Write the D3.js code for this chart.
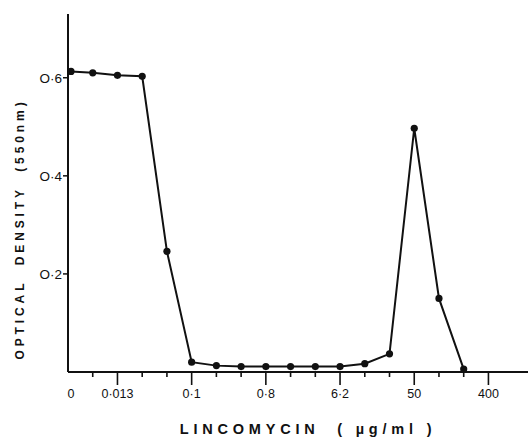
<!DOCTYPE html>
<html>
<head>
<meta charset="utf-8">
<script src="https://cdn.jsdelivr.net/npm/d3@7"></script>
<style>
	body { margin: 0; background: #fff; }
	text { font-family: 'Liberation Sans', Arial, sans-serif; fill: #111; }
</style>
</head>
<body>
<script>

// doubling dilutions, plotted by step index
const steps = [0, 1, 2, 3, 4, 5, 6, 7, 8, 9, 10, 11, 12, 13, 14, 15, 16];
const density = [0.613, 0.610, 0.605, 0.603, 0.246, 0.020, 0.013, 0.011, 0.011, 0.011, 0.011, 0.011, 0.017, 0.037, 0.497, 0.150, 0.006];

const xTickSteps = [1, 2, 3, 4, 5, 6, 7, 8, 9, 10, 11, 12, 13, 14, 15, 16, 17];
const xLabelSteps = [0, 2, 5, 8, 11, 14, 17];
const xLabels = ['0', '0·013', '0·1', '0·8', '6·2', '50', '400'];
const yTicks = [0.2, 0.4, 0.6];
const yLabels = ['O·2', 'O·4', 'O·6'];

const width = 530;
const height = 440;

const x = d3.scaleLinear()
	.domain([0, 18.6])
	.range([68, 528]);
const y = d3.scaleLinear()
	.domain([0, 0.73])
	.range([372, 14]);

const svg = d3.select('body')
	.append('svg')
	.attr('width', width)
	.attr('height', height);

// axes lines
svg.append('line')
	.attr('x1', x(0)).attr('x2', x(0))
	.attr('y1', y(0.73)).attr('y2', y(0))
	.attr('stroke', '#111').attr('stroke-width', 2);
svg.append('line')
	.attr('x1', x(0)).attr('x2', x(18.6))
	.attr('y1', y(0)).attr('y2', y(0))
	.attr('stroke', '#111').attr('stroke-width', 2);

// x ticks
svg.selectAll('.xtick')
	.data(xTickSteps)
	.enter()
	.append('line')
	.attr('class', 'xtick')
	.attr('x1', d => x(d)).attr('x2', d => x(d))
	.attr('y1', y(0))
	.attr('y2', d => y(0) + (xLabelSteps.includes(d) ? 13 : 5))
	.attr('stroke', '#111').attr('stroke-width', 1.6);

svg.selectAll('.xlab')
	.data(xLabels)
	.enter()
	.append('text')
	.attr('class', 'xlab')
	.attr('x', (d, i) => x(xLabelSteps[i]) + (i === 0 ? 3 : 0))
	.attr('y', 398)
	.attr('text-anchor', 'middle')
	.attr('font-size', 12.5)
	.text(d => d);

// y ticks
svg.selectAll('.ytick')
	.data(yTicks)
	.enter()
	.append('line')
	.attr('class', 'ytick')
	.attr('x1', x(0) - 5).attr('x2', x(0))
	.attr('y1', d => y(d)).attr('y2', d => y(d))
	.attr('stroke', '#111').attr('stroke-width', 1.5);

svg.selectAll('.ylab')
	.data(yLabels)
	.enter()
	.append('text')
	.attr('class', 'ylab')
	.attr('x', x(0) - 6)
	.attr('y', (d, i) => y(yTicks[i]) + 5)
	.attr('text-anchor', 'end')
	.attr('font-size', 13.5)
	.text(d => d);

// titles
svg.append('text')
	.attr('x', 308)
	.attr('y', 434)
	.attr('text-anchor', 'middle')
	.attr('font-size', 14.5)
	.attr('font-weight', 'bold')
	.attr('letter-spacing', 4.8)
	.attr('xml:space', 'preserve')
	.text('LINCOMYCIN  ( µg/ml )');

svg.append('text')
	.attr('transform', 'translate(24,229) rotate(-90)')
	.attr('text-anchor', 'middle')
	.attr('font-size', 12)
	.attr('font-weight', 'bold')
	.attr('letter-spacing', 3.9)
	.attr('xml:space', 'preserve')
	.text('OPTICAL  DENSITY  (550nm)');

// data line and dots
const line = d3.line()
	.x((d, i) => x(steps[i]) + (i === 0 ? 3 : 0))
	.y(d => y(d));

svg.append('path')
	.datum(density)
	.attr('d', line)
	.attr('fill', 'none')
	.attr('stroke', '#111')
	.attr('stroke-width', 2);

svg.selectAll('circle')
	.data(density)
	.enter()
	.append('circle')
	.attr('cx', (d, i) => x(steps[i]) + (i === 0 ? 3 : 0))
	.attr('cy', d => y(d))
	.attr('r', 3.6)
	.attr('fill', '#111');

</script>
</body>
</html>
